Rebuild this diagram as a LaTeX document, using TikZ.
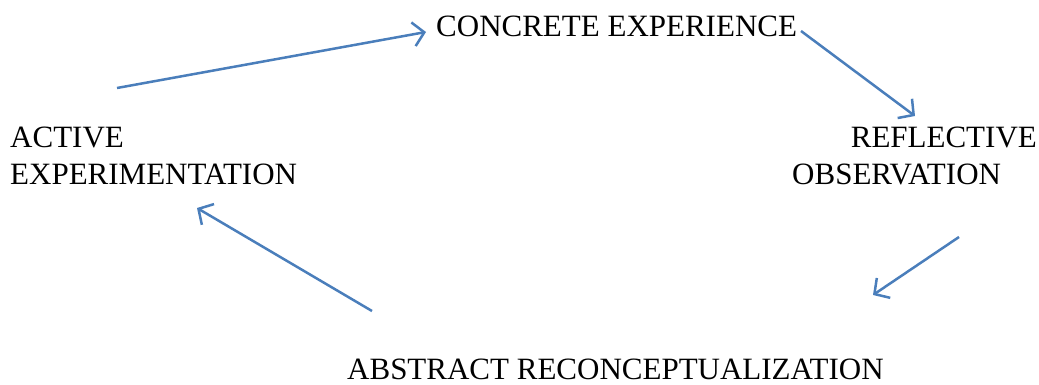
\documentclass[tikz,border=0pt]{standalone}
\usepackage{fontspec}
\setmainfont{Liberation Serif}
\usepackage{xcolor}
\usepackage{tikz}
\usetikzlibrary{positioning}
\usetikzlibrary{arrows.meta}
\definecolor{flowblue}{HTML}{4A7EBB}

\begin{document}
\begin{tikzpicture}[x=1pt,y=-1pt,
                    flow/.style={draw=flowblue,line width=2.5pt,
                    -{Straight Barb[length=11pt,width=24pt,line width=2.5pt]}},
                    stage/.style={inner sep=0pt,font=\fontsize{31}{37}\selectfont}]
\useasboundingbox (0,0) rectangle (1039,385);
\node[stage,anchor=base west] (concrete) at (436,37) {CONCRETE EXPERIENCE};
\node[stage,anchor=base east] (reflective) at (1037,148) {REFLECTIVE};
\node[stage,anchor=base west] (observation) at (792,185) {OBSERVATION};
\node[stage,anchor=base west] (abstract) at (347,379) {ABSTRACT RECONCEPTUALIZATION};
\node[stage,anchor=base west] (active) at (10,148) {ACTIVE};
\node[stage,anchor=base west] (experimentation) at (10,185) {EXPERIMENTATION};
% free ends of the cycle arrows
\coordinate (ae) at (117,88);
\coordinate (ce) at (426,32);
\coordinate (cr) at (801,31);
\coordinate (rr) at (915,116);
\coordinate (ro) at (959,237);
\coordinate (ra) at (873,295);
\coordinate (ab) at (372,311);
\coordinate (aa) at (197,208);
\path (ae) edge [flow] (ce)
      (cr) edge [flow] (rr)
      (ro) edge [flow] (ra)
      (ab) edge [flow] (aa);
\end{tikzpicture}
\end{document}
